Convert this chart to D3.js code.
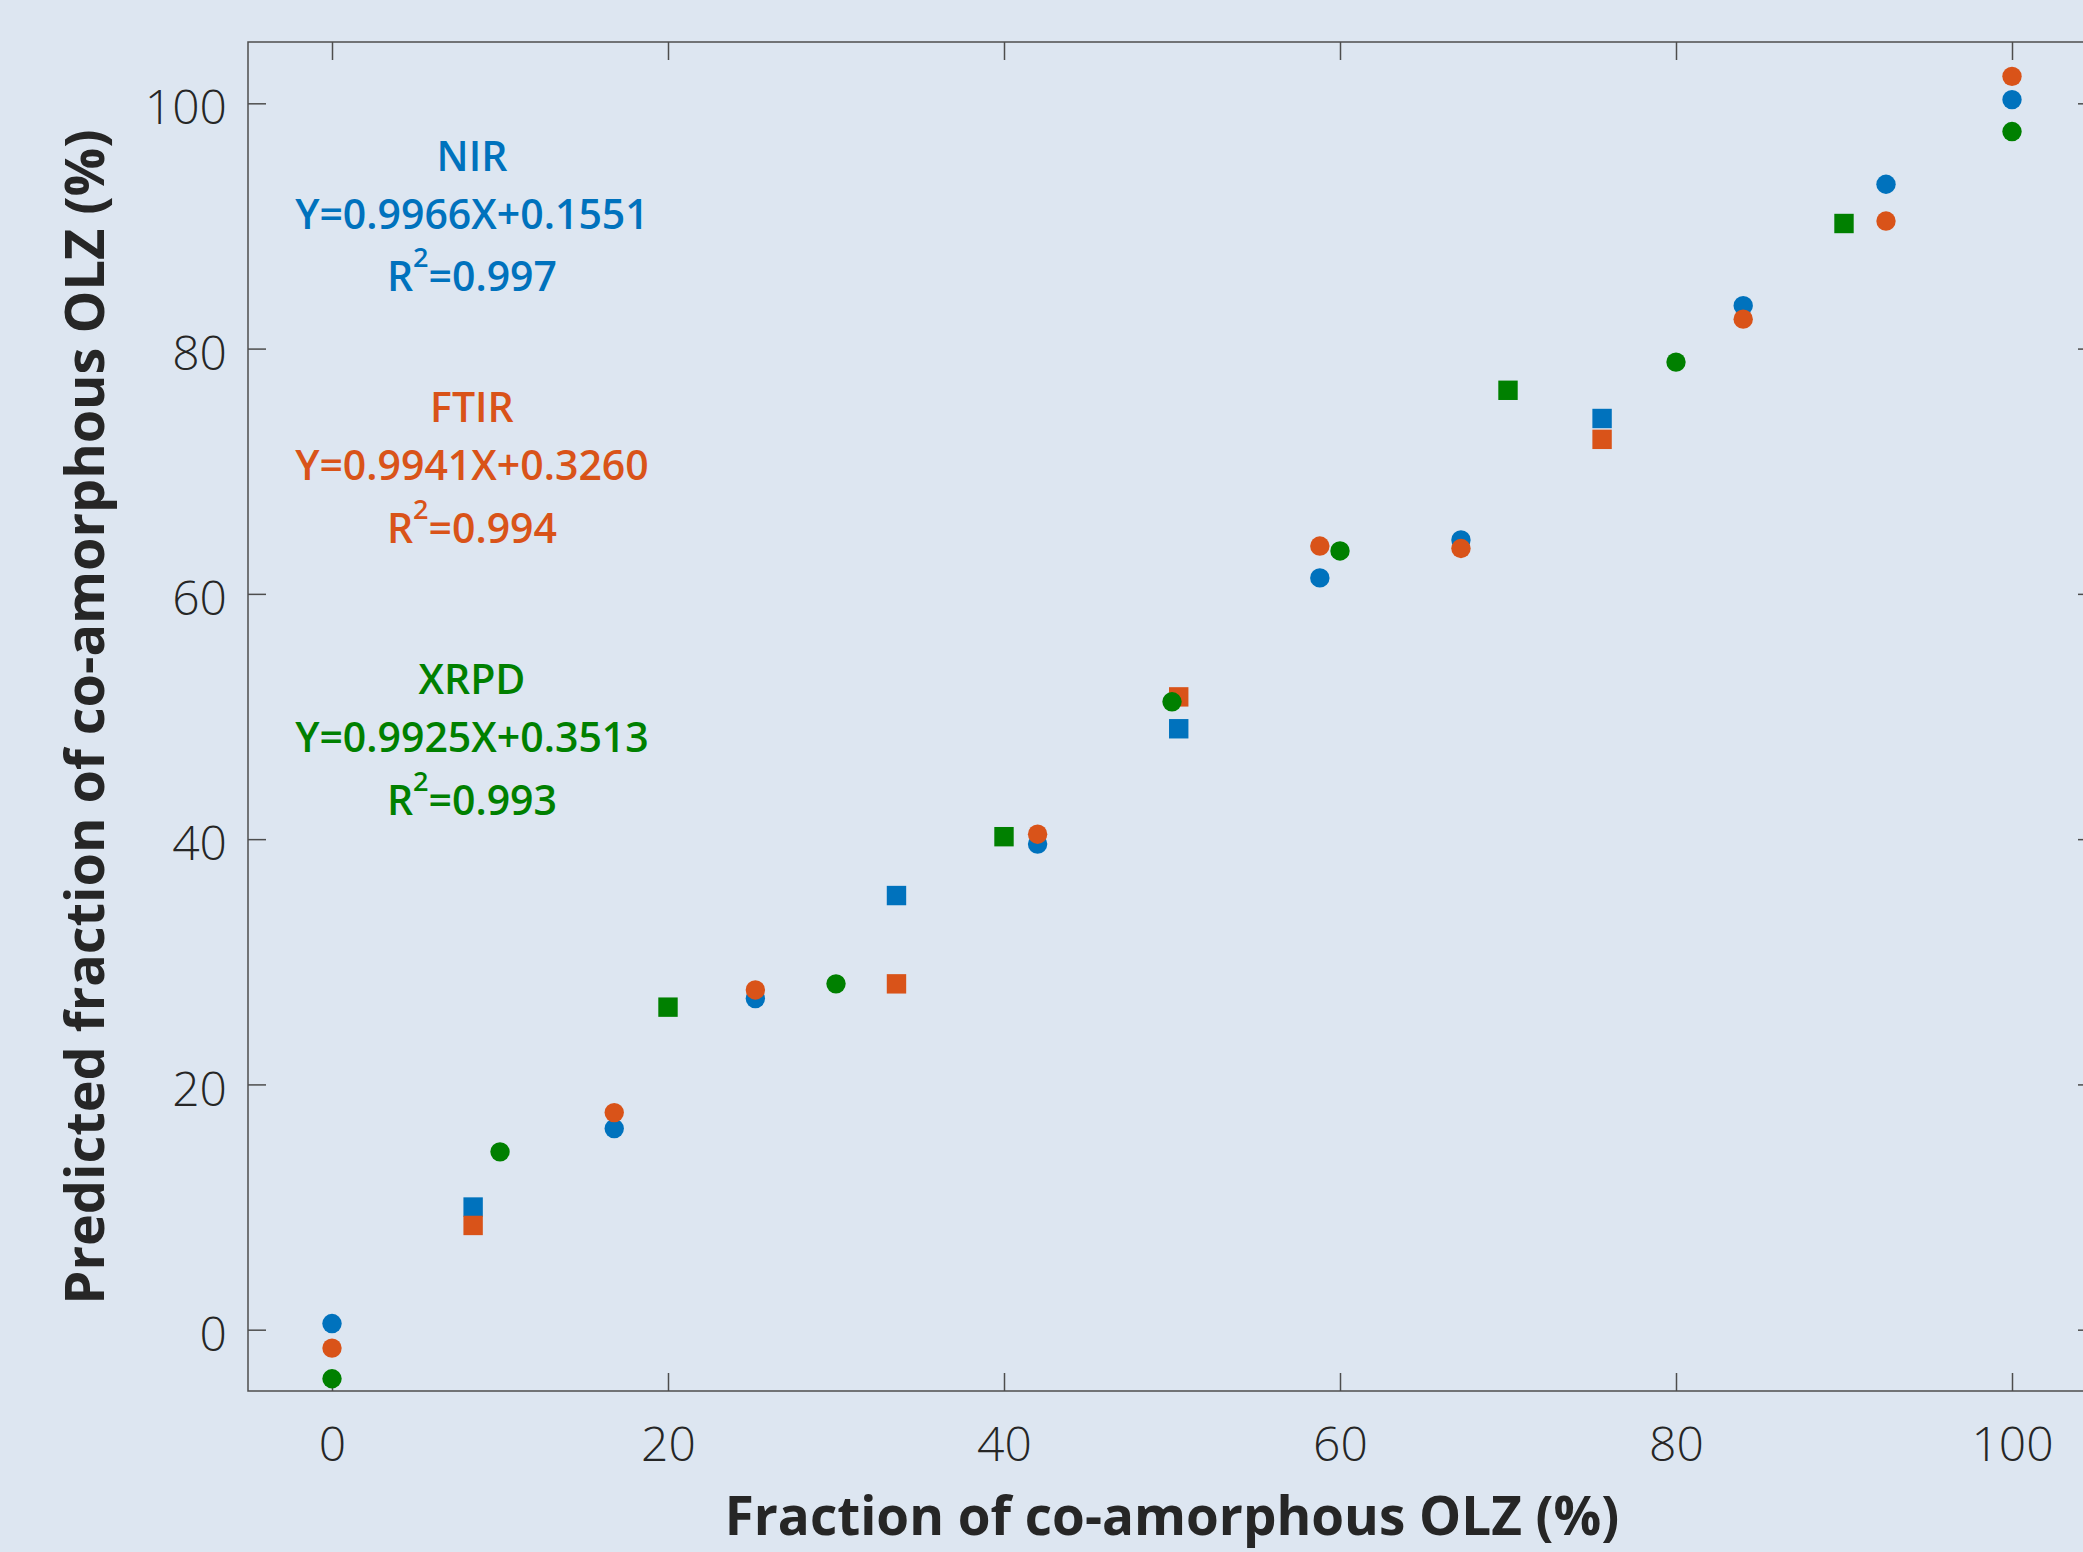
<!DOCTYPE html>
<html>
<head>
<meta charset="utf-8">
<script src="https://cdn.jsdelivr.net/npm/d3@7"></script>
<style>
  body { margin: 0; background: #dde6f1; }
  text { font-family: "Open Sans", "Liberation Sans", sans-serif; }
</style>
</head>
<body>
<svg id="chart"></svg>
<script>
// Data
// NIR and FTIR share the same sample fractions
const fractionNirFtir = [0, 8.4, 16.8, 25.2, 33.6, 42.0, 50.4, 58.8, 67.2, 75.6, 84.0, 92.5, 100];
const nirPredicted    = [0.5, 10.0, 16.4, 27.0, 35.4, 39.6, 49.0, 61.3, 64.4, 74.3, 83.5, 93.4, 100.3];
const ftirPredicted   = [-1.5, 8.5, 17.7, 27.7, 28.2, 40.4, 51.6, 63.9, 63.7, 72.6, 82.4, 90.4, 102.2];
// "val" samples are drawn as squares, "cal" as circles
const nirFtirSet      = ["cal", "val", "cal", "cal", "val", "cal", "val", "cal", "cal", "val", "cal", "cal", "cal"];

const fractionXrpd  = [0, 10, 20, 30, 40, 50, 60, 70, 80, 90, 100];
const xrpdPredicted = [-4.0, 14.5, 26.3, 28.2, 40.2, 51.2, 63.5, 76.6, 78.9, 90.2, 97.7];
const xrpdSet       = ["cal", "cal", "val", "cal", "val", "cal", "cal", "val", "cal", "val", "cal"];

const xTicks = [0, 20, 40, 60, 80, 100];
const yTicks = [0, 20, 40, 60, 80, 100];

const methodNames = ["NIR", "FTIR", "XRPD"];
const equations   = ["Y=0.9966X+0.1551", "Y=0.9941X+0.3260", "Y=0.9925X+0.3513"];
const rSquared    = ["0.997", "0.994", "0.993"];

// Layout
const colors = { NIR: "#0072bd", FTIR: "#d95319", XRPD: "#008000" };
const margin = { top: 42, left: 248 };
const width = 1848;
const height = 1349;
const textColor = "#262626";

const svg = d3.select("#chart")
  .attr("width", 2083)
  .attr("height", 1552);

svg.append("rect")
  .attr("width", 2083)
  .attr("height", 1552)
  .attr("fill", "#dde6f1");

const g = svg.append("g")
  .attr("transform", `translate(${margin.left},${margin.top})`);

// Scales
const x = d3.scaleLinear().domain([-5, 105]).range([0, width]);
const y = d3.scaleLinear().domain([-5, 105]).range([height, 0]);

// Axes, ticks pointing inward on all four sides
const axisColor = "#4d4d4d";
function styleAxis(sel) {
  sel.select(".domain").remove();
  sel.selectAll(".tick line").attr("stroke", axisColor).attr("stroke-width", 1.5);
  sel.selectAll(".tick text")
    .attr("fill", textColor)
    .style("font-size", "48px")
    .style("font-weight", 300);
}

g.append("g")
  .attr("transform", `translate(0,${height})`)
  .call(d3.axisBottom(x).tickValues(xTicks).tickSize(-18).tickSizeOuter(0).tickPadding(36))
  .call(styleAxis);

g.append("g")
  .call(d3.axisTop(x).tickValues(xTicks).tickSize(-18).tickSizeOuter(0).tickFormat(""))
  .call(styleAxis);

g.append("g")
  .call(d3.axisLeft(y).tickValues(yTicks).tickSize(-18).tickSizeOuter(0).tickPadding(21))
  .call(styleAxis)
  .selectAll(".tick text")
  .attr("dy", "0.43em");

g.append("g")
  .attr("transform", `translate(${width},0)`)
  .call(d3.axisRight(y).tickValues(yTicks).tickSize(-18).tickSizeOuter(0).tickFormat(""))
  .call(styleAxis);

// Box
g.append("rect")
  .attr("width", width)
  .attr("height", height)
  .attr("fill", "none")
  .attr("stroke", axisColor)
  .attr("stroke-width", 1.5);

// Points
const series = [
  { name: "NIR",  xs: fractionNirFtir, ys: nirPredicted,  set: nirFtirSet },
  { name: "FTIR", xs: fractionNirFtir, ys: ftirPredicted, set: nirFtirSet },
  { name: "XRPD", xs: fractionXrpd,    ys: xrpdPredicted, set: xrpdSet }
];

const r = 9.7;
series.forEach(s => {
  const pts = s.xs.map((v, i) => ({ x: v, y: s.ys[i], set: s.set[i] }));
  const layer = g.append("g").attr("fill", colors[s.name]);

  layer.selectAll("circle")
    .data(pts.filter(d => d.set === "cal"))
    .enter()
    .append("circle")
    .attr("cx", d => x(d.x))
    .attr("cy", d => y(d.y))
    .attr("r", r);

  layer.selectAll("rect")
    .data(pts.filter(d => d.set === "val"))
    .enter()
    .append("rect")
    .attr("x", d => x(d.x) - r)
    .attr("y", d => y(d.y) - r)
    .attr("width", 2 * r)
    .attr("height", 2 * r);
});

// Regression annotations
const noteX = 8.33;
const noteY = [94.5, 74.0, 51.8];
methodNames.forEach((name, i) => {
  const t = g.append("g")
    .attr("fill", colors[name])
    .attr("text-anchor", "middle")
    .style("font-size", "41px")
    .style("font-weight", 600);
  const base = y(noteY[i]);

  t.append("text").attr("x", x(noteX)).attr("y", base).text(name);
  t.append("text").attr("x", x(noteX)).attr("y", base + 58).text(equations[i]);

  const rt = t.append("text").attr("x", x(noteX)).attr("y", base + 120.5);
  rt.append("tspan").text("R");
  rt.append("tspan").attr("dy", -24).style("font-size", "27px").text("2");
  rt.append("tspan").attr("dy", 24).text("=" + rSquared[i]);
});

// Axis titles
svg.append("text")
  .attr("x", 1172)
  .attr("y", 1535)
  .attr("text-anchor", "middle")
  .attr("fill", textColor)
  .style("font-size", "53px")
  .style("font-weight", 700)
  .text("Fraction of co-amorphous OLZ (%)");

svg.append("text")
  .attr("transform", "translate(104,717) rotate(-90)")
  .attr("text-anchor", "middle")
  .attr("fill", textColor)
  .style("font-size", "54px")
  .style("font-weight", 700)
  .text("Predicted fraction of co-amorphous OLZ (%)");
</script>
</body>
</html>
